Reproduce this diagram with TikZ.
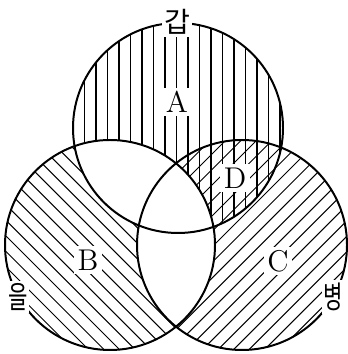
\documentclass[tikz,border=0pt]{standalone}
\usepackage{fontspec}
\newfontfamily\kofont{Noto Sans CJK KR}

\begin{document}
\begin{tikzpicture}[
  x=0.15mm, y=0.15mm,
  setline/.style={line width=0.85pt},
  hatch/.style={line width=0.45pt},
  region/.style={fill=white, inner sep=1.5pt, font=\fontsize{12.8}{14}\selectfont},
  setname/.style={fill=white, inner sep=1pt, font=\kofont\fontsize{12}{14}\selectfont}
]
  \useasboundingbox (0,0) rectangle (347,354);
  \coordinate (gap) at (178,226);
  \coordinate (eul) at (110,109);
  \coordinate (byeong) at (242,109);

  % vertical hatching: gap minus eul
  \begin{scope}[even odd rule]
    \clip (gap) circle (105);
    \clip (0,0) rectangle (347,354) (eul) circle (105);
    \foreach \x in {4,15.5,...,347}
      \draw[hatch] (\x,0) -- (\x,354);
  \end{scope}

  % rising hatching: byeong minus eul
  \begin{scope}[even odd rule]
    \clip (byeong) circle (105);
    \clip (0,0) rectangle (347,354) (eul) circle (105);
    \foreach \d in {-360,-344.5,...,350}
      \draw[hatch] (\d,0) -- ++(354,354);
  \end{scope}

  % falling hatching: eul minus gap and byeong
  \begin{scope}[even odd rule]
    \clip (eul) circle (105);
    \clip (0,0) rectangle (347,354) (gap) circle (105);
    \clip (0,0) rectangle (347,354) (byeong) circle (105);
    \foreach \d in {0,15.5,...,710}
      \draw[hatch] (\d,0) -- ++(-354,354);
  \end{scope}

  \draw[setline] (gap) circle (105);
  \draw[setline] (eul) circle (105);
  \draw[setline] (byeong) circle (105);

  \node[region] (A) at (177,252) {A};
  \node[region] (B) at (88,94) {B};
  \node[region] (C) at (278,93) {C};
  \node[region] (D) at (235,176) {D};

  \node[setname] (gapname) at (177,332) {갑};
  \node[setname, xscale=0.75, yscale=1.1] (eulname) at (18,57) {을};
  \node[setname, xscale=0.75, yscale=1.1] (byeongname) at (333,57) {병};
\end{tikzpicture}
\end{document}
